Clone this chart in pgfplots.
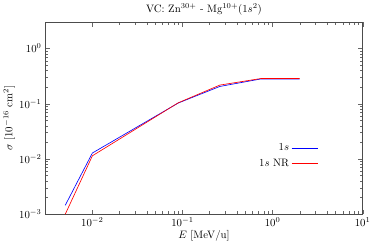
\documentclass[border=0pt]{standalone}
\usepackage{pgfplots}
\pgfplotsset{compat=1.18}
\begin{document}
\begin{tikzpicture}
\begin{axis}[
  scale only axis,
  width=294bp, height=178bp,
  xmode=log, ymode=log,
  xmin=0.003, xmax=10, ymin=1e-3, ymax=3,
  xtick={0.01,0.1,1,10},
  ytick={0.001,0.01,0.1,1},
  tick align=inside,
  tick style={black!60},
  axis line style={black!70},
  title={VC: Zn$^{30+}$ - Mg$^{10+}(1s^2)$},
  title style={yshift=-3pt},
  xlabel={$E$ [MeV/u]},
  ylabel={$\sigma$ [$10^{-16}$ cm$^2$]},
  xlabel style={yshift=3pt},
  ylabel style={yshift=-3pt},
  legend style={draw=none, fill=none, at={(0.87,0.39)}, anchor=north east, row sep=2pt},
  legend cell align=right,
  legend plot pos=right,
  legend image code/.code={\draw[#1] (0cm,0cm) -- (0.85cm,0cm);},
]
\addplot[color=blue, line width=0.6pt] coordinates {
(0.005,0.00145) (0.01,0.0128) (0.09,0.103) (0.26,0.205) (0.74,0.28) (2.0,0.28)
};
\addlegendentry{$1s$}
\addplot[color=red, line width=0.6pt] coordinates {
(0.005,0.001) (0.01,0.0114) (0.09,0.104) (0.26,0.217) (0.74,0.285) (2.0,0.285)
};
\addlegendentry{$1s$ NR}
\end{axis}
\end{tikzpicture}
\end{document}
